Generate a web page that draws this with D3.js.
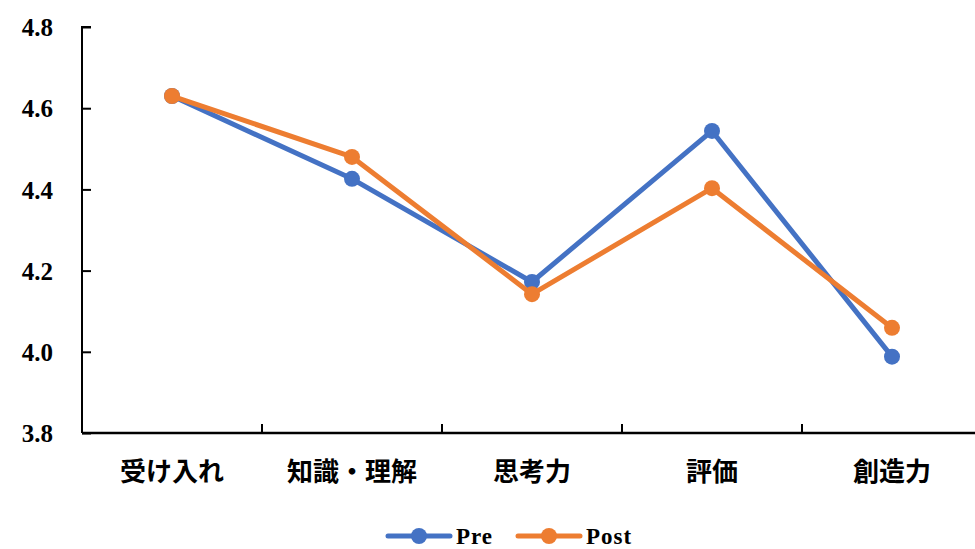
<html>
<head>
<meta charset="utf-8">
<style>
  body { margin: 0; background: #fff; }
  .ytick text { font-family: "Liberation Serif", "Times New Roman", serif; font-weight: bold; font-size: 25px; fill: #000; }
  .xtick text { font-family: "Noto Sans CJK JP", sans-serif; font-weight: bold; font-size: 26px; fill: #000; }
  .legend text { font-family: "Liberation Serif", serif; font-weight: bold; font-size: 23px; letter-spacing: 1px; }
</style>
</head>
<body>
<svg width="975" height="549"></svg>
<script src="https://d3js.org/d3.v7.min.js"></script>
<script>
var categories = ['受け入れ', '知識・理解', '思考力', '評価', '創造力'];
var preValues = [4.63, 4.426, 4.172, 4.544, 3.988];
var postValues = [4.63, 4.48, 4.142, 4.403, 4.059];
var yTicks = [3.8, 4.0, 4.2, 4.4, 4.6, 4.8];
var seriesNames = ['Pre', 'Post'];
var colors = ['#4472C4', '#ED7D31'];

var svg = d3.select('svg');
var plotLeft = 82, plotRight = 982, plotTop = 27, plotBottom = 433;

var x = d3.scaleBand().domain(categories).range([plotLeft, plotRight]);
var y = d3.scaleLinear().domain([3.8, 4.8]).range([plotBottom, plotTop]);

// y axis
var yAxis = d3.axisRight(y).tickValues(yTicks).tickSize(9).tickFormat(d3.format('.1f'));
var yG = svg.append('g').attr('class', 'ytick').attr('transform', 'translate(' + plotLeft + ',0)').call(yAxis);
yG.select('.domain').attr('stroke', '#000').attr('stroke-width', 2).attr('d', 'M9,' + plotTop + 'H0V' + plotBottom);
yG.selectAll('line').attr('stroke', '#000').attr('stroke-width', 2);
yG.selectAll('text').attr('x', -29).attr('text-anchor', 'end').attr('dy', '0.35em');

// x axis
var xAxis = d3.axisTop(x).tickSize(0).tickFormat('');
var xG = svg.append('g').attr('transform', 'translate(0,' + plotBottom + ')').call(xAxis);
xG.select('.domain').attr('stroke', '#000').attr('stroke-width', 2.5).attr('d', 'M' + plotLeft + ',0H975');
xG.selectAll('.tick').remove();
svg.append('g').selectAll('line')
  .data(categories.slice(1))
  .join('line')
  .attr('x1', function(d) { return x(d); })
  .attr('x2', function(d) { return x(d); })
  .attr('y1', plotBottom).attr('y2', plotBottom - 9)
  .attr('stroke', '#000').attr('stroke-width', 2);
svg.append('g').attr('class', 'xtick').selectAll('text')
  .data(categories)
  .join('text')
  .attr('x', function(d) { return x(d) + x.bandwidth() / 2; })
  .attr('y', 472)
  .attr('text-anchor', 'middle')
  .attr('dy', '0.35em')
  .text(function(d) { return d; });

// lines
var line = d3.line()
  .x(function(d, i) { return x(categories[i]) + x.bandwidth() / 2; })
  .y(function(d) { return y(d); });

[preValues, postValues].forEach(function(vals, k) {
  var g = svg.append('g');
  g.append('path').datum(vals).attr('d', line)
    .attr('fill', 'none').attr('stroke', colors[k]).attr('stroke-width', 5).attr('stroke-linejoin', 'round');
  g.selectAll('circle').data(vals).join('circle')
    .attr('cx', function(d, i) { return x(categories[i]) + x.bandwidth() / 2; })
    .attr('cy', function(d) { return y(d); })
    .attr('r', 8).attr('fill', colors[k]);
});

// legend
var legendX = [388, 518];
var lg = svg.append('g').attr('class', 'legend');
seriesNames.forEach(function(name, k) {
  var g = lg.append('g').attr('transform', 'translate(' + legendX[k] + ',536)');
  g.append('line').attr('x1', 0).attr('x2', 62).attr('stroke', colors[k]).attr('stroke-width', 5).attr('stroke-linecap', 'round');
  g.append('circle').attr('cx', 31).attr('r', 8).attr('fill', colors[k]);
  g.append('text').attr('x', 68).attr('dy', '0.35em').text(name);
});
</script>
</body>
</html>
